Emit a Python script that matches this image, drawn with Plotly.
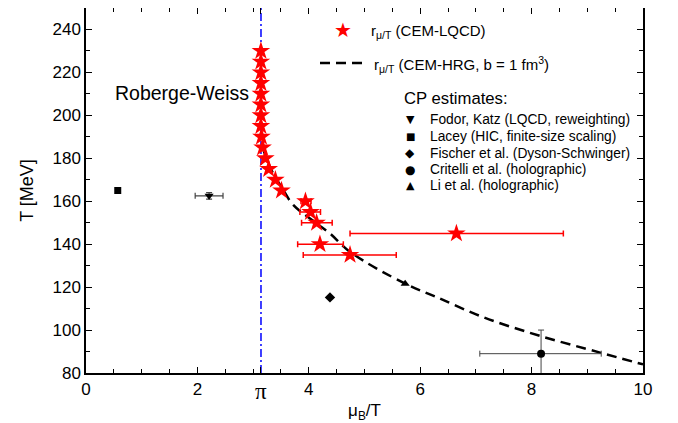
import numpy as np
import plotly.graph_objects as go

# ---- data ----
lqcd_T = [230, 225, 220, 215, 210, 205, 200, 195, 190, 185, 180, 175, 170, 165]
lqcd_x = [3.14, 3.14, 3.14, 3.14, 3.14, 3.14, 3.14, 3.14, 3.15, 3.17, 3.22, 3.28, 3.40, 3.51]

lqcd_err_T = [160, 155, 150, 145, 140, 135]
lqcd_err_x = [3.94, 4.03, 4.14, 6.65, 4.20, 4.74]
lqcd_err_lo = [3.86, 3.84, 3.87, 4.74, 3.80, 3.90]
lqcd_err_hi = [4.04, 4.21, 4.42, 8.57, 4.62, 5.57]

hrg_x = [3.18, 3.30, 3.54, 3.72, 4.14, 4.38, 4.74, 5.73, 6.30, 7.13, 8.15, 9.23, 10.0]
hrg_T = [184.5, 176.0, 165.3, 158.3, 149.7, 145.0, 136.4, 121.6, 115.3, 106.0, 97.3, 89.5, 84.0]

fodor_x, fodor_T, fodor_xerr, fodor_Terr = [2.21], [162.5], [0.25], [1.5]
lacey_x, lacey_T = [0.57], [165.0]
fischer_x, fischer_T = [4.38], [115.2]
critelli_x, critelli_T = [8.17], [89.0]
critelli_xlo, critelli_xhi, critelli_Terr = [1.10], [1.08], [11.0]
li_x, li_T = [5.73], [121.6]

xtick_vals = [0, 2, np.pi, 4, 6, 8, 10]
xtick_text = ["0", "2", "", "4", "6", "8", "10"]
pi_label = "π"

cp_labels = ["Fodor, Katz (LQCD, reweighting)", "Lacey (HIC, finite-size scaling)",
             "Fischer et al. (Dyson-Schwinger)", "Critelli et al. (holographic)",
             "Li et al. (holographic)"]
cp_glyphs = ["▼", "■", "◆", "●", "▲"]
cp_glyph_sizes = [11, 10, 12, 12, 11]

FONT = "Liberation Sans, Arial, sans-serif"
fig = go.Figure()

# CEM-HRG dashed curve
fig.add_trace(go.Scatter(
    x=hrg_x, y=hrg_T, mode="lines",
    line=dict(color="black", width=2.5, dash="10px,6px", shape="spline"),
    showlegend=False))

# LQCD stars with error bars
fig.add_trace(go.Scatter(
    x=lqcd_err_x, y=lqcd_err_T, mode="markers",
    marker=dict(symbol="star", size=14, color="red", line=dict(width=0)),
    error_x=dict(type="data", symmetric=False,
                 array=[h - x for h, x in zip(lqcd_err_hi, lqcd_err_x)],
                 arrayminus=[x - l for l, x in zip(lqcd_err_lo, lqcd_err_x)],
                 color="red", thickness=1.5, width=3),
    showlegend=False))
fig.add_trace(go.Scatter(
    x=lqcd_x, y=lqcd_T, mode="markers",
    marker=dict(symbol="star", size=14, color="red", line=dict(width=0)),
    showlegend=False))

ecol = "#444444"
fig.add_trace(go.Scatter(
    x=fodor_x, y=fodor_T, mode="markers",
    marker=dict(symbol="triangle-down", size=8, color="black"),
    error_x=dict(type="data", array=fodor_xerr, color=ecol, thickness=1.2, width=3),
    error_y=dict(type="data", array=fodor_Terr, color=ecol, thickness=1.2, width=3),
    showlegend=False))
fig.add_trace(go.Scatter(
    x=lacey_x, y=lacey_T, mode="markers",
    marker=dict(symbol="square", size=7, color="black"), showlegend=False))
fig.add_trace(go.Scatter(
    x=fischer_x, y=fischer_T, mode="markers",
    marker=dict(symbol="diamond", size=8, color="black"), showlegend=False))
fig.add_trace(go.Scatter(
    x=critelli_x, y=critelli_T, mode="markers",
    marker=dict(symbol="circle", size=8, color="black"),
    error_x=dict(type="data", symmetric=False, array=critelli_xhi, arrayminus=critelli_xlo,
                 color=ecol, thickness=1, width=3),
    error_y=dict(type="data", array=critelli_Terr, color=ecol, thickness=1, width=3),
    showlegend=False))
fig.add_trace(go.Scatter(
    x=li_x, y=li_T, mode="markers",
    marker=dict(symbol="triangle-up", size=8, color="black"), showlegend=False))

fig.add_vline(x=np.pi, line=dict(color="blue", width=1.5, dash="8px,3px,2px,3px"), layer="below")

axis_common = dict(showline=True, linecolor="black", linewidth=1.5, mirror="ticks",
                   ticks="inside", ticklen=6, tickwidth=1.2, tickcolor="black",
                   showgrid=False, zeroline=False, automargin=False,
                   tickfont=dict(family=FONT, size=17, color="black"))

fig.update_xaxes(range=[0, 10], tickmode="array", tickvals=xtick_vals, ticktext=xtick_text,
                 minor=dict(ticks="inside", dtick=0.5, tick0=0, ticklen=4, tickcolor="black", showgrid=False),
                 title=dict(text="μ<sub>B</sub>/T", font=dict(family=FONT, size=17, color="black"), standoff=6),
                 **axis_common)
fig.update_yaxes(range=[80, 250], dtick=20, tick0=0,
                 minor=dict(ticks="inside", dtick=10, ticklen=4, tickcolor="black", showgrid=False),
                 title=dict(text="T [MeV]", font=dict(family=FONT, size=18, color="black"), standoff=14),
                 **axis_common)

# serif pi tick label
fig.add_annotation(text=pi_label, x=np.pi, xref="x", y=0, yref="paper", yanchor="top",
                   xanchor="center", yshift=-4, showarrow=False,
                   font=dict(family="Liberation Serif, Times New Roman, serif", size=23, color="black"))

# page offset: the browser's default 8px body margin shifts the figure
def px(xp):
    return (xp - 86) / 557.0

def py(yp):
    return (373 - yp) / 365.0

fig.add_annotation(text="Roberge-Weiss", xref="paper", yref="paper", x=px(113), y=py(93),
                   xanchor="left", yanchor="middle", showarrow=False,
                   font=dict(family=FONT, size=19.5, color="black"))

# legend (drawn as text + a dashed sample line)
fig.add_annotation(text="★", xref="paper", yref="paper", x=px(343), y=py(30),
                   xanchor="center", yanchor="middle", showarrow=False,
                   font=dict(family="DejaVu Sans", size=20, color="red"))
fig.add_annotation(text="r<sub>μ/T</sub> (CEM-LQCD)", xref="paper", yref="paper", x=px(369), y=py(32),
                   xanchor="left", yanchor="middle", showarrow=False,
                   font=dict(family=FONT, size=15, color="black"))
fig.add_shape(type="line", xref="paper", yref="paper", x0=px(320), x1=px(366), y0=py(63), y1=py(63),
              line=dict(color="black", width=2.5, dash="10px,6px"))
fig.add_annotation(text="r<sub>μ/T</sub> (CEM-HRG, b = 1 fm<sup>3</sup>)", xref="paper", yref="paper",
                   x=px(372), y=py(64), xanchor="left", yanchor="middle", showarrow=False,
                   font=dict(family=FONT, size=15, color="black"))
fig.add_annotation(text="CP estimates:", xref="paper", yref="paper", x=px(402), y=py(99),
                   xanchor="left", yanchor="middle", showarrow=False,
                   font=dict(family=FONT, size=16.7, color="black"))
cp_y = [120, 136.7, 153.3, 170, 185.7]
for lab, g, gs, yy in zip(cp_labels, cp_glyphs, cp_glyph_sizes, cp_y):
    fig.add_annotation(text=g, xref="paper", yref="paper", x=px(410), y=py(yy),
                       xanchor="center", yanchor="middle", showarrow=False,
                       font=dict(family="DejaVu Sans", size=gs, color="black"))
    fig.add_annotation(text=lab, xref="paper", yref="paper", x=px(428), y=py(yy),
                       xanchor="left", yanchor="middle", showarrow=False,
                       font=dict(family=FONT, size=13.8, color="black"))

fig.update_layout(
    width=670, height=415,
    margin=dict(l=78, r=35, t=0, b=50),
    plot_bgcolor="white", paper_bgcolor="white",
    font=dict(family=FONT, color="black"),
    showlegend=False,
)

fig.write_html("out.html")
